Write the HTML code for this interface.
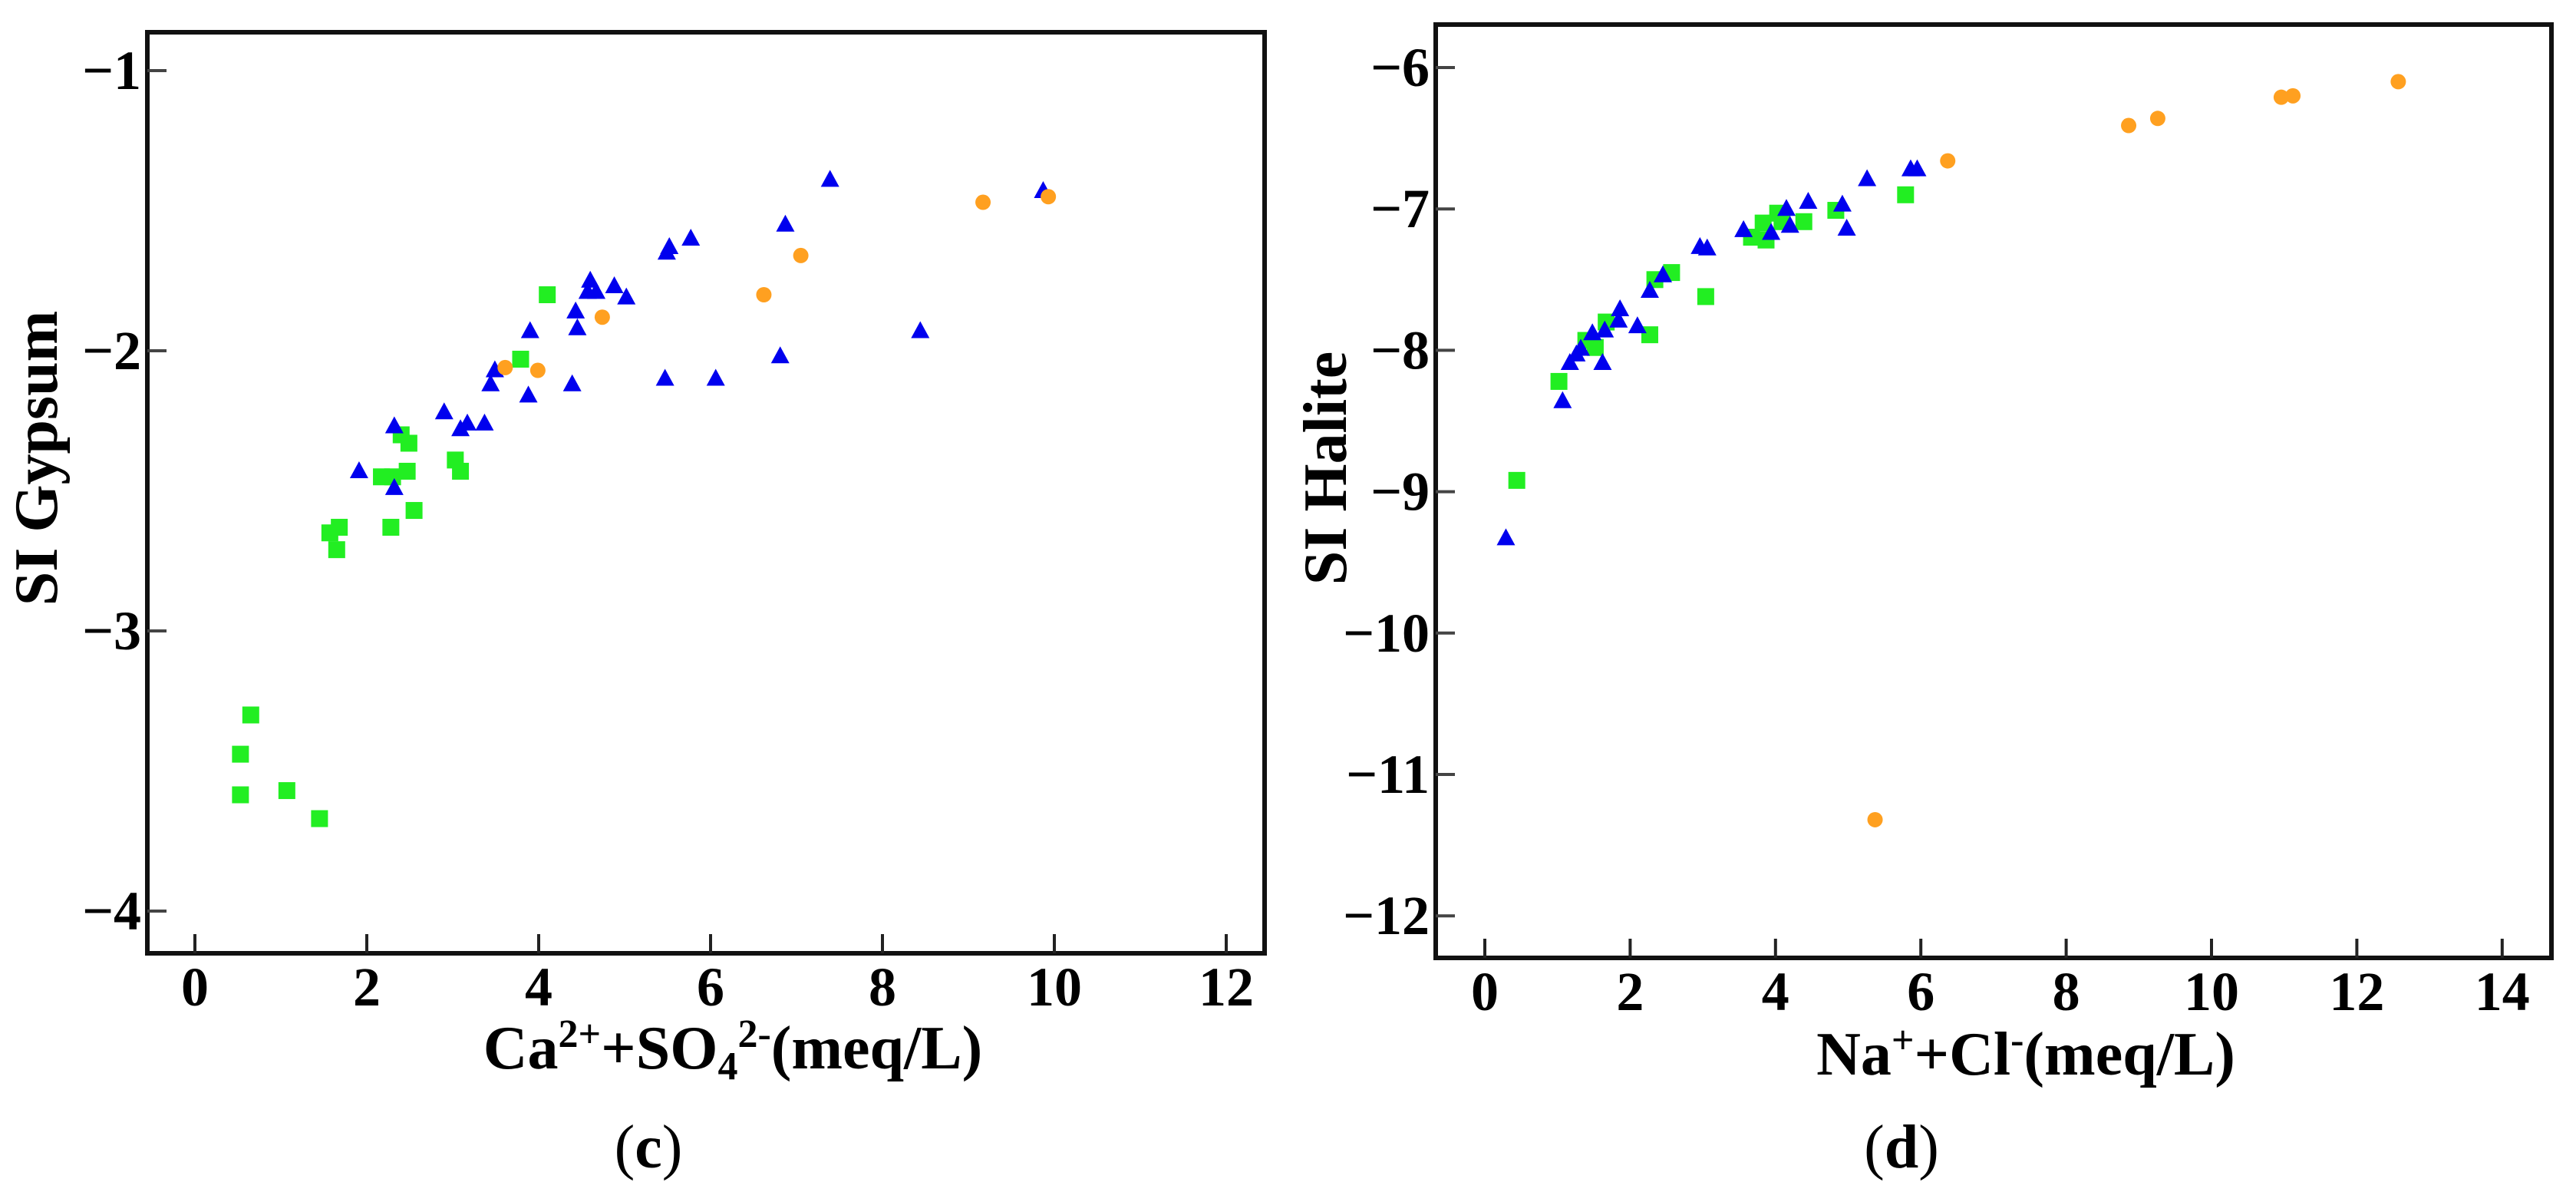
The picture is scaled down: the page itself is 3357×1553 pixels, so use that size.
<!DOCTYPE html>
<html><head><meta charset="utf-8"><style>
html,body{margin:0;padding:0;background:#fff;}
svg{display:block;}
svg text{font-family:"Liberation Serif","Times New Roman",serif;font-weight:bold;}
</style></head><body>
<svg id="fig" width="3357" height="1553" viewBox="0 0 3357 1553"></svg>
<script>
// ---- Chart (c): SI Gypsum ----
const gypXTicks = [0,2,4,6,8,10,12];
const gypYTicks = [-1,-2,-3,-4];
const gypGreenX = [0.53,0.53,0.65,1.07,1.45,1.57,1.68,1.65,2.28,2.17,2.30,2.47,2.40,2.49,2.55,3.03,3.09,3.79,4.10];
const gypGreenY = [-3.44,-3.585,-3.30,-3.57,-3.67,-2.65,-2.63,-2.71,-2.63,-2.45,-2.45,-2.43,-2.30,-2.33,-2.57,-2.39,-2.43,-2.03,-1.80];
const gypBlueX = [1.91,2.32,2.32,2.90,3.09,3.17,3.37,3.44,3.49,3.88,3.90,4.39,4.43,4.45,4.60,4.57,4.67,4.88,5.02,5.47,5.49,5.52,5.77,6.06,6.81,6.87,7.39,8.44,9.87];
const gypBlueY = [-2.43,-2.27,-2.49,-2.22,-2.28,-2.26,-2.26,-2.12,-2.07,-2.16,-1.93,-2.12,-1.86,-1.92,-1.75,-1.79,-1.79,-1.77,-1.81,-2.10,-1.65,-1.63,-1.60,-2.10,-2.02,-1.55,-1.39,-1.93,-1.43];
const gypOrangeX = [3.61,3.99,4.74,6.62,7.05,9.17,9.93];
const gypOrangeY = [-2.06,-2.07,-1.88,-1.80,-1.66,-1.47,-1.45];

// ---- Chart (d): SI Halite ----
const halXTicks = [0,2,4,6,8,10,12,14];
const halYTicks = [-6,-7,-8,-9,-10,-11,-12];
const halGreenX = [0.44,1.02,1.39,1.52,1.67,2.27,2.34,2.57,3.04,3.67,3.83,3.87,4.03,4.09,4.39,4.83,5.79];
const halGreenY = [-8.92,-8.22,-7.93,-7.98,-7.80,-7.89,-7.50,-7.45,-7.62,-7.20,-7.10,-7.22,-7.03,-7.09,-7.09,-7.01,-6.90];
const halBlueX = [0.29,1.07,1.17,1.26,1.32,1.48,1.62,1.65,1.84,1.86,2.10,2.27,2.45,2.96,3.06,3.56,3.94,4.15,4.20,4.45,4.92,4.98,5.26,5.86,5.95];
const halBlueY = [-9.33,-8.36,-8.09,-8.03,-7.99,-7.88,-8.09,-7.86,-7.79,-7.71,-7.83,-7.58,-7.47,-7.27,-7.28,-7.15,-7.17,-7.00,-7.12,-6.95,-6.97,-7.14,-6.79,-6.72,-6.72];
const halOrangeX = [5.37,6.37,8.86,9.26,10.96,11.12,12.57];
const halOrangeY = [-11.32,-6.66,-6.41,-6.36,-6.21,-6.20,-6.10];

const NS = "http://www.w3.org/2000/svg";
const svg = document.getElementById("fig");
const FONT = '"Liberation Serif", "Times New Roman", serif';
function mk(tag, attrs, parent){
  const e = document.createElementNS(NS, tag);
  for (const k in attrs) e.setAttribute(k, attrs[k]);
  if (tag === "text") { e.setAttribute("font-family", FONT); e.style.fontFamily = FONT; }
  (parent||svg).appendChild(e);
  return e;
}
const GREEN="#22ee22", BLUE="#0000ee", ORANGE="#ffa020";

function drawChart(cfg){
  const g = mk("g",{});
  
  
  const sx = v => cfg.x0 + (v - cfg.xv0) * cfg.xs;
  const sy = v => cfg.y0 + (v - cfg.yv0) * cfg.ys;
  const fr = mk("rect",{x:cfg.L,y:cfg.T,width:cfg.R-cfg.L,height:cfg.B-cfg.T,fill:"none",stroke:"#111","stroke-width":6},g);
  
  
  cfg.xt.forEach(t=>{
    const x = sx(t);
    const tk = mk("line",{x1:x,x2:x,y1:cfg.B,y2:cfg.B-25,stroke:"#222","stroke-width":4},g);
    
    
    const lb = mk("text",{x:x,y:cfg.B+68,"text-anchor":"middle","font-size":72,"font-weight":"bold"},g);
    lb.textContent = t;
    
    
  });
  cfg.yt.forEach(t=>{
    const y = sy(t);
    const tk = mk("line",{x1:cfg.L,x2:cfg.L+25,y1:y,y2:y,stroke:"#444","stroke-width":4},g);
    
    
    const lb = mk("text",{x:cfg.L-8,y:y+24,"text-anchor":"end","font-size":72,"font-weight":"bold"},g);
    lb.textContent = "\u2212" + Math.abs(t);
    
    
  });
  cfg.gx.forEach((v,i)=>{
    const m = mk("rect",{x:sx(v)-11,y:sy(cfg.gy[i])-11,width:22,height:22,fill:GREEN},g);
    
    
  });
  cfg.bx.forEach((v,i)=>{
    const x=sx(v), y=sy(cfg.by[i]);
    const m = mk("polygon",{points:`${x},${y-13} ${x-12},${y+9} ${x+12},${y+9}`,fill:BLUE},g);
    
    
  });
  cfg.ox.forEach((v,i)=>{
    const m = mk("circle",{cx:sx(v),cy:sy(cfg.oy[i]),r:10,fill:ORANGE},g);
    
    
  });
  const xt = mk("text",{x:cfg.xtX,y:cfg.xtY,"text-anchor":"middle","font-size":80,"font-weight":"bold"},g);
  xt.innerHTML = cfg.xTitle;
  
  
  const yt = mk("text",{x:0,y:0,"text-anchor":"middle","font-size":80,"font-weight":"bold",transform:`translate(${cfg.ytX},${cfg.ytY}) rotate(-90)`},g);
  yt.textContent = cfg.yTitle;
  
  
  const cap = mk("text",{x:cfg.capX,y:1521,"text-anchor":"middle","font-size":80},g);
  cap.style.fontWeight = "normal";
  cap.innerHTML = '(<tspan style="font-weight:bold">'+cfg.cap+'</tspan>)';
  
  
}

drawChart({name:"gypsum-chart",L:192,R:1648,T:42,B:1242,
  x0:254,xv0:0,xs:112, y0:92,yv0:-1,ys:-365,
  xt:gypXTicks,yt:gypYTicks,gx:gypGreenX,gy:gypGreenY,bx:gypBlueX,by:gypBlueY,ox:gypOrangeX,oy:gypOrangeY,
  xTitle:'Ca<tspan font-size="52" dy="-28">2+</tspan><tspan dy="28">+SO</tspan><tspan font-size="52" dy="14">4</tspan><tspan font-size="52" dy="-42">2-</tspan><tspan dy="28">(meq/L)</tspan>',
  xtX:955,xtY:1392,yTitle:"SI Gypsum",ytX:74,ytY:597,cap:"c",capX:845});

drawChart({name:"halite-chart",L:1871,R:3325,T:32,B:1248,
  x0:1935,xv0:0,xs:94.7, y0:88,yv0:-6,ys:-184.2,
  xt:halXTicks,yt:halYTicks,gx:halGreenX,gy:halGreenY,bx:halBlueX,by:halBlueY,ox:halOrangeX,oy:halOrangeY,
  xTitle:'Na<tspan font-size="52" dy="-28">+</tspan><tspan dy="28">+Cl</tspan><tspan font-size="52" dy="-28">-</tspan><tspan dy="28">(meq/L)</tspan>',
  xtX:2640,xtY:1400,yTitle:"SI Halite",ytX:1754,ytY:610,cap:"d",capX:2478});
</script>
</body></html>
